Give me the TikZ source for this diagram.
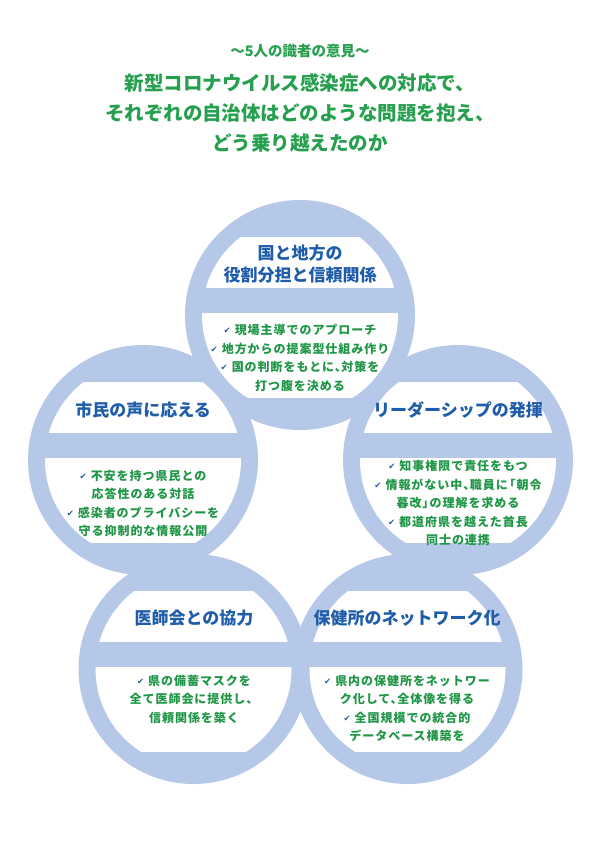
\documentclass[tikz,border=0pt]{standalone}
\usepackage{fontspec}
\newfontfamily\jp{Noto Sans CJK JP}
\newfontfamily\jpsp{Noto Sans CJK JP}[LetterSpace=8]
\newfontfamily\dv{DejaVu Sans}
\definecolor{cblue}{HTML}{B5C8E8}
\definecolor{tblue}{HTML}{1F5DAA}
\definecolor{hgreen}{HTML}{26A04E}
\definecolor{bgreen}{HTML}{1E9646}
\definecolor{ckblue}{HTML}{2A5CAA}
\newcommand{\chk}{\raisebox{1pt}{\dv\fontsize{8.5}{8.5}\selectfont\textcolor{ckblue}{✔}}\hspace{4pt}}
\newcommand{\tc}{、\kern-0.45em}
\newcommand{\mybubble}[2]{%
  \begin{scope}[shift={(#1,#2)}]
    \fill[cblue] (0,0) circle[radius=115pt];
    \clip (0,0) circle[radius=98pt];
    \fill[white] (-100,-78) rectangle (100,-27);
    \fill[white] (-100,-2) rectangle (100,83);
  \end{scope}}
\tikzset{
  hdr/.style={font=\jp\bfseries\fontsize{14.5}{16}\selectfont, text=hgreen, inner sep=0pt},
  ttl/.style={font=\jp\bfseries\fontsize{19.5}{30}\selectfont, text=hgreen, align=center, inner sep=0pt},
  ctitle/.style={font=\jp\bfseries\fontsize{17}{22}\selectfont, text=tblue, align=center, inner sep=0pt},
  cbody/.style={font=\jpsp\bfseries\fontsize{12}{18.5}\selectfont, text=bgreen, align=center, inner sep=0pt}
}
\begin{document}
\begin{tikzpicture}[x=1pt,y=-1pt]
\useasboundingbox (0,0) rectangle (600,847);
\fill[white] (0,0) rectangle (600,847);

\mybubble{300}{315}
\mybubble{143}{460}
\mybubble{458}{460}
\mybubble{193.5}{669}
\mybubble{407.5}{669}

\node[hdr] (header) at (300,51) {～5人の識者の意見～};
\node[ttl] (title) at (300,113) {新型コロナウイルス感染症への対応で、\\それぞれの自治体はどのような問題を抱え、\\どう乗り越えたのか};

\node[ctitle] (t1) at (300,264) {国と地方の\\役割分担と信頼関係};
\node[ctitle] (t2) at (143,410) {市民の声に応える};
\node[ctitle] (t3) at (458,410) {リーダーシップの発揮};
\node[ctitle] (t4) at (194,618) {医師会との協力};
\node[ctitle] (t5) at (407,618) {保健所のネットワーク化};

\node[cbody] (b1) at (300,358) {\chk 現場主導でのアプローチ\\\chk 地方からの提案型仕組み作り\\\chk 国の判断をもとに\tc 対策を\\打つ腹を決める};
\node[cbody] (b2) at (143,503.5) {\chk 不安を持つ県民との\\応答性のある対話\\\chk 感染者のプライバシーを\\守る抑制的な情報公開};
\node[cbody] (b3) at (458,503) {\chk 知事権限で責任をもつ\\\chk 情報がない中\tc 職員に\kern-0.35em「朝令\\暮改」\kern-0.4em の理解を求める\\\chk 都道府県を越えた首長\\同士の連携};
\node[cbody] (b4) at (194,699) {\chk 県の備蓄マスクを\\全て医師会に提供し、\\信頼関係を築く};
\node[cbody] (b5) at (407,708.5) {\chk 県内の保健所をネットワー\\ク化して\tc 全体像を得る\\\chk 全国規模での統合的\\データベース構築を};
\end{tikzpicture}
\end{document}
